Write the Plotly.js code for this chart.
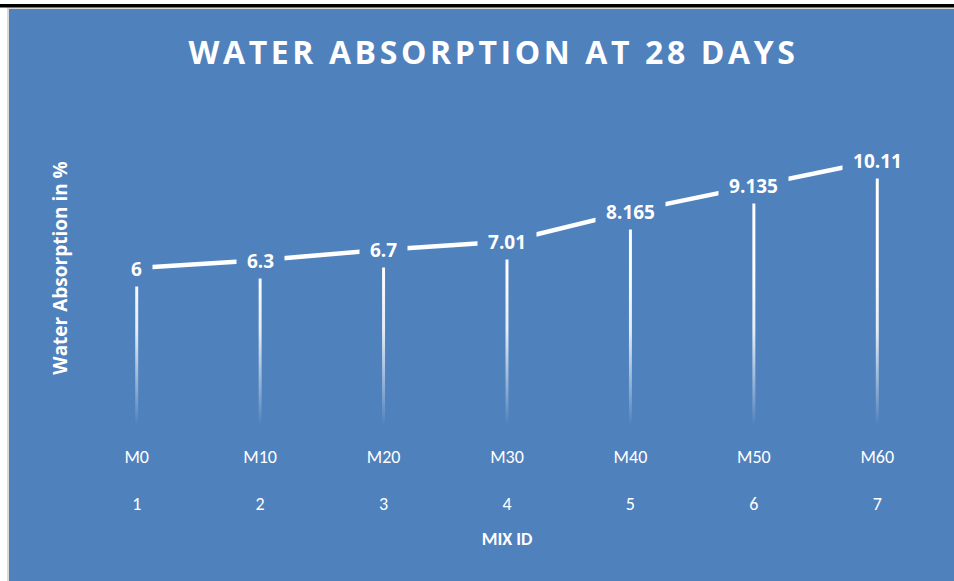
<!DOCTYPE html>
<html><head><meta charset="utf-8">
<script src="https://cdn.plot.ly/plotly-3.0.1.min.js"></script>
<style>
html,body{margin:0;padding:0;background:#fff;overflow:hidden;}
#chart{width:954px;height:581px;}
.gtitle{letter-spacing:3.6px;}
</style></head><body><div id="chart"></div>
<script>
// ---- data ----
const mixIds = ['M0','M10','M20','M30','M40','M50','M60'];
const runNo = [1,2,3,4,5,6,7];
const absorption = [6, 6.3, 6.7, 7.01, 8.165, 9.135, 10.11];
const xTitle = 'MIX ID';
const yTitle = 'Water Absorption in %';
const chartTitle = 'WATER ABSORPTION AT 28 DAYS';

// ---- geometry helpers (pixel -> paper) ----
const BLUE = '#4F81BD';
const W = 954, H = 581, M = {l:75, r:15, t:111, b:156};
const pw = W - M.l - M.r, ph = H - M.t - M.b;
const px2x = p => (p - M.l) / pw;
const py2y = p => (H - M.b - p) / ph;

const xIdx = mixIds.map((_, i) => i);
const narrow = "Carlito, 'Liberation Sans Narrow', 'DejaVu Sans Condensed', sans-serif";
const labelFont = "'Open Sans', sans-serif";

// drop lines: thin gradient-filled columns from 0 up to each value
const half = 0.012;
const dx = [], dy = [];
xIdx.forEach((x, i) => {
  dx.push(x - half, x + half, x + half, x - half, x - half, null);
  dy.push(0, 0, absorption[i], absorption[i], 0, null);
});

const traces = [
  {
    x: dx, y: dy, type: 'scatter', mode: 'lines', fill: 'toself',
    line: {width: 0, color: 'rgba(255,255,255,0)'},
    fillgradient: {
      type: 'vertical', start: 0, stop: 6,
      colorscale: [[0, 'rgba(255,255,255,0)'], [0.2, 'rgba(255,255,255,0.3)'],
                   [0.6, 'rgba(255,255,255,0.85)'], [1, 'rgba(255,255,255,1)']]
    },
    hoverinfo: 'skip', showlegend: false
  },
  {
    x: xIdx, y: absorption, type: 'scatter', mode: 'lines',
    line: {color: '#FFFFFF', width: 4.5}, showlegend: false
  }
];

function textW(s) {
  let w = 0;
  for (const c of s) w += (c === '.') ? 5.5 : 10.9;
  return w;
}

const annotations = absorption.map((v, i) => ({
  x: xIdx[i], y: v, xref: 'x', yref: 'y',
  text: String(v), showarrow: false,
  font: {family: labelFont, size: 19, color: '#FFFFFF', weight: 'bold'},
  bgcolor: BLUE, borderpad: 3, width: textW(String(v)) + 14, height: 29,
  xanchor: 'center', yanchor: 'middle'
}));

const shapes = [
  {type:'rect', xref:'paper', yref:'paper', layer:'below',
   x0: px2x(9), x1: px2x(W + 5), y0: py2y(H + 5), y1: py2y(9),
   fillcolor: BLUE, line: {width: 0}},
  {type:'rect', xref:'paper', yref:'paper', layer:'below',
   x0: px2x(7), x1: px2x(9), y0: py2y(H + 5), y1: py2y(7),
   fillcolor: '#D9D9D9', line: {width: 0}},
  {type:'rect', xref:'paper', yref:'paper', layer:'below',
   x0: px2x(7), x1: px2x(W + 5), y0: py2y(9), y1: py2y(7.6),
   fillcolor: '#D9D9D9', line: {width: 0}},
  {type:'rect', xref:'paper', yref:'paper', layer:'below',
   x0: px2x(-5), x1: px2x(W + 5), y0: py2y(7.6), y1: py2y(4),
   fillcolor: '#000000', line: {width: 0}}
];

const layout = {
  width: W, height: H, margin: M,
  paper_bgcolor: '#FFFFFF', plot_bgcolor: 'rgba(0,0,0,0)',
  showlegend: false,
  title: {
    text: chartTitle, xref: 'container', yref: 'container',
    x: 0.5173, y: 1 - 53 / H, xanchor: 'center', yanchor: 'middle',
    font: {family: labelFont, size: 32, color: '#FFFFFF', weight: 'bold'}
  },
  xaxis: {
    range: [-0.5, 6.5], tickmode: 'array', tickvals: xIdx,
    ticktext: mixIds.map((m, i) => m + '<br><br>' + runNo[i]),
    tickfont: {family: narrow, size: 18, color: '#FFFFFF'},
    showgrid: false, zeroline: false, showline: false, ticks: '',
    ticklabelstandoff: 19,
    title: {text: xTitle, font: {family: narrow, size: 18, color: '#FFFFFF', weight: 'bold'}, standoff: 18}
  },
  yaxis: {
    range: [0, 12], showticklabels: false, showgrid: false, zeroline: false,
    showline: false, ticks: '',
    title: {text: yTitle, font: {family: labelFont, size: 19, color: '#FFFFFF', weight: 'bold'}, standoff: 1}
  },
  shapes: shapes,
  annotations: annotations
};

Plotly.newPlot('chart', traces, layout, {displayModeBar: false, staticPlot: true});
</script></body></html>
